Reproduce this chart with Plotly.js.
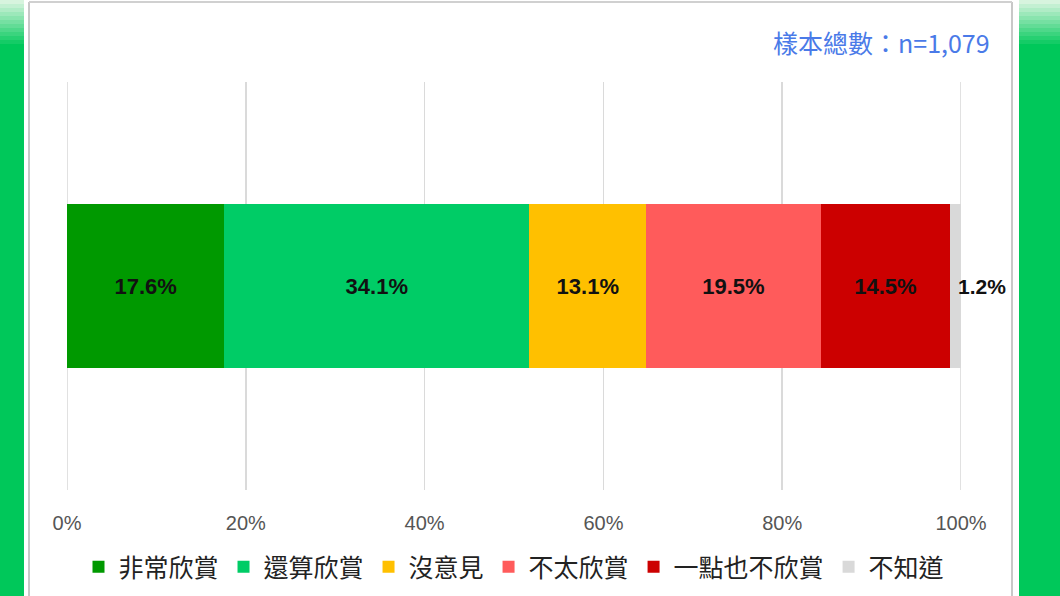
<!DOCTYPE html>
<html>
<head>
<meta charset="utf-8">
<script src="https://cdn.plot.ly/plotly-3.0.1.min.js"></script>
<style>
  html, body { margin: 0; padding: 0; background: #fff; }
  #chart { width: 1060px; height: 596px; }
</style>
</head>
<body>
<div id="chart"></div>
<script>
// answer categories and shares (%)
var categories = ['非常欣賞', '還算欣賞', '沒意見', '不太欣賞', '一點也不欣賞', '不知道'];
var shares = [17.6, 34.1, 13.1, 19.5, 14.5, 1.2];
var colors = ['#009900', '#00cc66', '#ffc000', '#ff5b5b', '#cc0000', '#d9d9d9'];
var rowName = ['欣賞'];
var tickValues = [0, 20, 40, 60, 80, 100];
var sampleNote = '樣本總數：n=1,079';

var traces = categories.map(function (name, i) {
  var last = i === categories.length - 1;
  return {
    type: 'bar',
    orientation: 'h',
    name: name,
    x: [shares[i]],
    y: rowName,
    marker: { color: colors[i], line: { width: 0 } },
    text: last ? [''] : [shares[i].toFixed(1) + '%'],
    textposition: 'inside',
    insidetextanchor: 'middle',
    textangle: 0,
    textfont: { family: 'Liberation Sans, Arial, sans-serif', size: 22, color: '#111', weight: 'bold' },
    hoverinfo: 'skip'
  };
});

// label of the thin last segment sits outside the stack
var lastIdx = shares.length - 1;
var stackEnd = shares.reduce(function (a, b) { return a + b; }, 0);

// side bands and panel frame (paper coords: plot spans px 67..961, 82..490)
function px(p) { return (p - 67) / 894; }
function py(q) { return (490 - q) / 408; }
var shapes = [];
function band(x0, x1) {
  shapes.push({ type: 'rect', xref: 'paper', yref: 'paper', x0: px(x0), x1: px(x1), y0: py(596), y1: py(0),
    fillcolor: '#00c85a', line: { width: 0 }, layer: 'below' });
  // fade to pale at the top: overlapping strips, lightest first
  for (var k = 0; k < 12; k++) {
    var t = k / 11;
    var r = Math.round(215 - 215 * t), g = Math.round(244 - 44 * t), b = Math.round(222 - 132 * t);
    shapes.push({ type: 'rect', xref: 'paper', yref: 'paper', x0: px(x0), x1: px(x1),
      y0: py(48), y1: py(k * 4), fillcolor: 'rgb(' + r + ',' + g + ',' + b + ')',
      line: { width: 0 }, layer: 'below' });
  }
}
band(0, 24);
band(1019, 1060);
[29, 1012].forEach(function (x) {
  shapes.push({ type: 'line', xref: 'paper', yref: 'paper', x0: px(x), x1: px(x), y0: py(2), y1: py(596),
    line: { color: '#c8c8c8', width: 2 }, layer: 'below' });
});
shapes.push({ type: 'line', xref: 'paper', yref: 'paper', x0: px(29), x1: px(1012), y0: py(2), y1: py(2),
  line: { color: '#d0d0d0', width: 2 }, layer: 'below' });
// grid lines at the two range ends (plotly drops these at the edges)
[tickValues[0], tickValues[tickValues.length - 1]].forEach(function (v) {
  shapes.push({ type: 'line', xref: 'x', yref: 'paper', x0: v, x1: v, y0: 0, y1: 1,
    line: { color: '#dadada', width: 1.6 }, layer: 'below' });
});

var layout = {
  width: 1060,
  height: 596,
  margin: { l: 67, r: 99, t: 82, b: 106, autoexpand: false },
  paper_bgcolor: '#ffffff',
  plot_bgcolor: '#ffffff',
  barmode: 'stack',
  bargap: 0.6,
  showlegend: true,
  hovermode: false,
  font: { family: 'Noto Sans CJK TC, Liberation Sans, sans-serif', color: '#333' },
  xaxis: {
    range: [0, 100],
    tickvals: tickValues,
    ticktext: tickValues.map(function (v) { return v + '%'; }),
    ticks: 'outside',
    ticklen: 15,
    tickcolor: 'rgba(0,0,0,0)',
    tickfont: { family: 'Liberation Sans, Arial, sans-serif', size: 20, color: '#555' },
    showgrid: true,
    gridcolor: '#dadada',
    gridwidth: 1.6,
    zeroline: false,
    showline: false,
    automargin: false,
    fixedrange: true
  },
  yaxis: {
    visible: false,
    range: [-0.5, 0.5],
    fixedrange: true
  },
  legend: {
    orientation: 'h',
    x: 0.5,
    xanchor: 'center',
    y: py(567),
    yanchor: 'middle',
    font: { family: 'Noto Sans CJK TC, sans-serif', size: 25, color: '#222' },
    traceorder: 'normal',
    itemwidth: 30
  },
  shapes: shapes,
  annotations: [
    {
      x: stackEnd, y: rowName[0], xref: 'x', yref: 'y',
      text: shares[lastIdx].toFixed(1) + '%',
      showarrow: false, xanchor: 'left', xshift: -5,
      font: { family: 'Liberation Sans, Arial, sans-serif', size: 21, color: '#111', weight: 'bold' }
    },
    {
      x: px(992), y: py(42), xref: 'paper', yref: 'paper',
      text: sampleNote, showarrow: false, xanchor: 'right', yanchor: 'middle',
      font: { family: 'Noto Sans CJK TC, sans-serif', size: 25, color: '#4a7ae8' }
    }
  ]
};

Plotly.newPlot('chart', traces, layout, { displayModeBar: false, staticPlot: true });
</script>
</body>
</html>
